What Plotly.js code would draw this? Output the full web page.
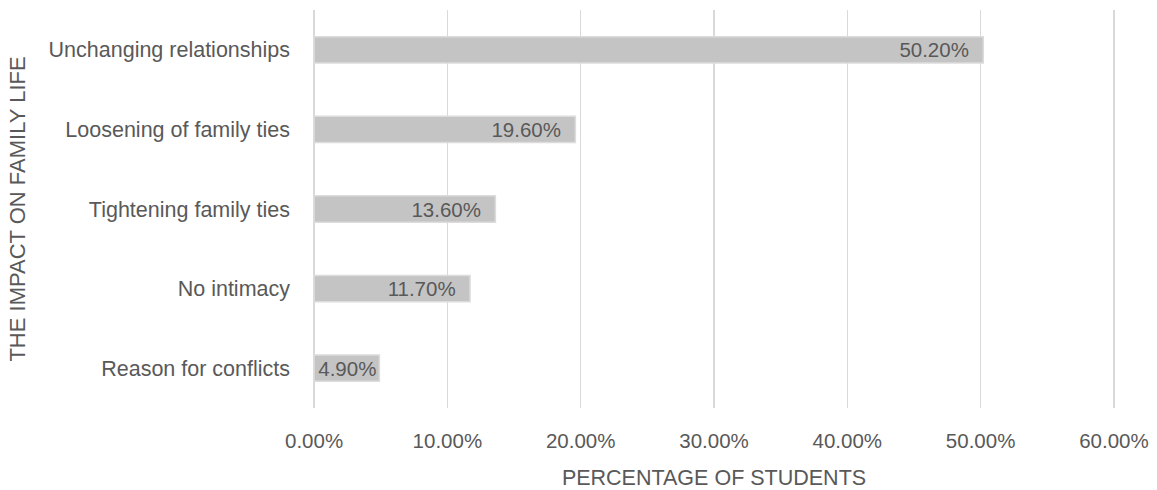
<!DOCTYPE html>
<html>
<head>
<meta charset="utf-8">
<script src="https://cdn.plot.ly/plotly-3.0.1.min.js"></script>
<style>html,body{margin:0;padding:0;background:#fff;}#chart{width:1157px;height:490px;}</style>
</head>
<body>
<div id="chart"></div>
<script>
var categories = ["Unchanging relationships", "Loosening of family ties", "Tightening family ties", "No intimacy", "Reason for conflicts"];
var values = [0.502, 0.196, 0.136, 0.117, 0.049];
var labels = ["50.20%", "19.60%", "13.60%", "11.70%", "4.90%"];
var xTickVals = [0, 0.1, 0.2, 0.3, 0.4, 0.5, 0.6];
var xTickText = ["0.00%", "10.00%", "20.00%", "30.00%", "40.00%", "50.00%", "60.00%"];

var FONT = "Liberation Sans, Arial, sans-serif";
var TXT = "#595959";
var NB = "\u00a0";

var trace = {
  type: "bar",
  orientation: "h",
  x: values,
  y: categories,
  text: labels,
  texttemplate: [
    "%{text}" + NB + NB,
    "%{text}" + NB + NB,
    "%{text}" + NB + NB,
    "%{text}" + NB + NB,
    "\u2007\u2007%{text}"
  ],
  textposition: "inside",
  insidetextanchor: "end",
  constraintext: "none",
  cliponaxis: false,
  textfont: {family: FONT, size: 20.5, color: TXT},
  marker: {color: "#c4c4c4", line: {color: "#dcdcdc", width: 1.5}},
  hoverinfo: "none"
};

var layout = {
  width: 1157,
  height: 490,
  margin: {l: 313, r: 42, t: 10, b: 82},
  paper_bgcolor: "#ffffff",
  plot_bgcolor: "#ffffff",
  showlegend: false,
  bargap: 0.67,
  font: {family: FONT, size: 20, color: TXT},
  xaxis: {
    range: [-0.0008, 0.6008],
    tickvals: xTickVals,
    ticktext: xTickText,
    showgrid: true,
    gridcolor: "#d9d9d9",
    gridwidth: 1.5,
    zeroline: true,
    zerolinecolor: "#d9d9d9",
    zerolinewidth: 1.5,
    showline: false,
    ticks: "",
    ticklabelstandoff: 18,
    tickfont: {family: FONT, size: 20.5, color: TXT},
    title: {text: "PERCENTAGE OF STUDENTS", font: {family: FONT, size: 21.5, color: TXT}, standoff: 20}
  },
  yaxis: {
    type: "category",
    autorange: "reversed",
    showgrid: false,
    zeroline: false,
    showline: false,
    ticks: "",
    ticklabelstandoff: 22,
    tickfont: {family: FONT, size: 21.5, color: TXT},
    title: {text: "THE IMPACT ON FAMILY LIFE", font: {family: FONT, size: 22, color: TXT}, standoff: 16}
  }
};

Plotly.newPlot("chart", [trace], layout, {staticPlot: true, displayModeBar: false});
</script>
</body>
</html>
